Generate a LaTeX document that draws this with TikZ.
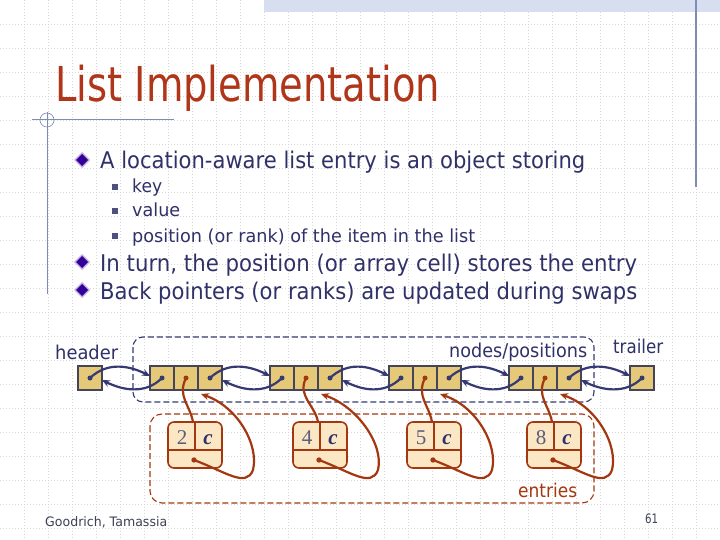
\documentclass[tikz,border=0pt]{standalone}
\usepackage{fontspec}
\setmainfont{DejaVu Sans}
\newfontfamily\serifkey{Liberation Serif}
\usetikzlibrary{arrows.meta,calc}
\definecolor{titlered}{HTML}{B0361A}
\definecolor{navy}{HTML}{2F3168}
\definecolor{bulletc}{HTML}{330099}
\definecolor{gridc}{HTML}{D8D8D8}
\definecolor{bandc}{HTML}{D6DEF0}
\definecolor{decoc}{HTML}{7E8BB5}
\definecolor{cellfill}{HTML}{E5C979}
\definecolor{cellline}{HTML}{44455A}
\definecolor{linkc}{HTML}{363A72}
\definecolor{entc}{HTML}{A33810}
\definecolor{entfill}{HTML}{FCE7C5}
\definecolor{keyc}{HTML}{5C5C7C}
\definecolor{footc}{HTML}{3F4256}
\newcommand{\fitw}[2]{\resizebox{#1}{\height}{#2}}
\begin{document}
\begin{tikzpicture}[x=1pt,y=-1pt,
  gridline/.style={gridc, line width=0.7pt, dash pattern=on 1pt off 2pt},
  cell/.style={draw=cellline, fill=cellfill, line width=1.4pt, minimum width=24pt, minimum height=24pt, inner sep=0pt, outer sep=0pt},
  link/.style={linkc, line width=2.2pt, -{Stealth[length=8pt,width=7pt]}},
  eptr/.style={entc, line width=2.2pt},
  bptr/.style={entc, line width=2.2pt, -{Stealth[length=8pt,width=7pt]}},
  ent/.style={draw=entc, fill=entfill, rounded corners=6pt, line width=1.6pt, minimum width=54pt, minimum height=46pt, inner sep=0pt, outer sep=0pt},
  keyt/.style={text=keyc, font=\serifkey\fontsize{21}{21}\selectfont, inner sep=0pt, anchor=base},
  ct/.style={text=navy, font=\serifkey\bfseries\itshape\fontsize{21}{21}\selectfont, inner sep=0pt, anchor=base},
  lbl/.style={text=navy, font=\fontsize{19}{19}\selectfont, inner sep=0pt, anchor=base west},
  body/.style={text=navy, font=\fontsize{23}{23}\selectfont, inner sep=0pt, anchor=base west},
  subt/.style={text=navy, font=\fontsize{18}{18}\selectfont, inner sep=0pt, anchor=base west},
  dbul/.pic={
    \fill[bulletc!30] (0,-8) -- (8,0) -- (0,8) -- (-8,0) -- cycle;
    \fill[bulletc] (0,-6) -- (6,0) -- (0,6) -- (-6,0) -- cycle;
  },
  sbul/.pic={\fill[navy!85] (-3,-3) rectangle (3,3);},
]
\useasboundingbox (0,0) rectangle (720,540);
\fill[white] (0,0) rectangle (720,540);
% grid
\foreach \i in {1,...,29} \draw[gridline] ({\i*24},0) -- ({\i*24},540);
\foreach \j in {1,...,22} \draw[gridline] (0,{\j*24}) -- (720,{\j*24});
% decorations
\fill[bandc] (264,0) rectangle (720,12);
\draw[decoc, line width=1.3pt] (696,0) -- (696,187);
\draw[decoc, line width=1pt] (32,120) -- (174,120);
\draw[decoc, line width=1pt] (47,112) -- (47,294);
\draw[decoc, line width=0.6pt] (47,120) circle (7);
% title
\node[anchor=base west, inner sep=0pt, text=titlered, font=\fontsize{48}{48}\selectfont] (title) at (55,102) {\fitw{385pt}{List Implementation}};
% bullets
\pic at (82,160) {dbul};
\node[body] (b1) at (100,169) {\fitw{485pt}{A location-aware list entry is an object storing}};
\pic at (115,187) {sbul};
\node[subt] (s1) at (132,193) {\fitw{30pt}{key}};
\pic at (115,211) {sbul};
\node[subt] (s2) at (132,217) {\fitw{48pt}{value}};
\pic at (115,236) {sbul};
\node[subt] (s3) at (132,242) {\fitw{343pt}{position (or rank) of the item in the list}};
\pic at (82,262) {dbul};
\node[body] (b2) at (100,271) {\fitw{537pt}{In turn, the position (or array cell) stores the entry}};
\pic at (82,290) {dbul};
\node[body] (b3) at (100,299) {\fitw{537pt}{Back pointers (or ranks) are updated during swaps}};
% dashed groups
\draw[linkc, dash pattern=on 6pt off 3pt, line width=1.1pt, rounded corners=10pt] (133,337) rectangle (594,402);
\draw[entc, dash pattern=on 6pt off 3pt, line width=1.1pt, rounded corners=12pt] (150,414) rectangle (594,503);
% labels
\node[lbl] (lh) at (55,359) {\fitw{63pt}{header}};
\node[lbl] (lp) at (449,357) {\fitw{138pt}{nodes/positions}};
\node[lbl] (lt) at (613,353) {\fitw{50pt}{trailer}};
\node[lbl, text=entc] (le) at (518,497) {\fitw{59pt}{entries}};
% cells
\node[cell] (h) at (90,378) {};
\node[cell] (t) at (642,378) {};
\foreach \i/\x in {1/150, 2/270, 3/389, 4/509} {
  \node[cell] (n\i-a) at ({\x+12},378) {};
  \node[cell] (n\i-b) at ({\x+36},378) {};
  \node[cell] (n\i-c) at ({\x+60},378) {};
}
% element pointers
\foreach \i/\x in {1/195, 2/320, 3/434, 4/554} {
  \node[ent, draw=none, fill=none] (e\i) at (\x,445) {};
  \draw[eptr] (n\i-b.center) .. controls +(-9,18) and +(-3,-17) .. ($(e\i.north)+(-2,0)$);
}
% entries
\foreach \i/\k in {1/2, 2/4, 3/5, 4/8} {
  \node[ent] (e\i) at (e\i.center) {};
  \draw[entc, line width=1.6pt] ($(e\i.west)+(0,5)$) -- ($(e\i.east)+(0,5)$);
  \draw[entc, line width=1.6pt] (e\i.north) -- ($(e\i.center)+(0,5)$);
  \node[keyt] (k\i) at ($(e\i.center)+(-13,-1)$) {\k};
  \node[ct] (c\i) at ($(e\i.center)+(13,-1)$) {c};
  \coordinate (d\i) at ($(e\i.center)+(-1,15)$);
}
% back pointers
\foreach \i in {1,...,4} {
  \draw[bptr] (d\i) .. controls ($(d\i)+(32,12)$) and ($(d\i)+(52,28)$) .. ($(d\i)+(59,10)$)
     .. controls ($(d\i)+(65,-15)$) and ($(n\i-c.south west)+(40,17)$) .. ($(n\i-c.south west)+(3,4)$);
  \fill[entc] (d\i) circle (2.7);
}
% links
\foreach \a/\b in {h/n1-a, n1-c/n2-a, n2-c/n3-a, n3-c/n4-a, n4-c/t} {
  \draw[link] (\a.center) .. controls +(18,-17) and +(-20,-10) .. ($(\b.west)+(0,-2)$);
  \draw[link] (\b.center) .. controls +(-17,17) and +(20,10) .. ($(\a.east)+(0,2)$);
}
% dots
\fill[linkc] (h.center) circle (2.5);
\fill[linkc] (t.center) circle (2.5);
\foreach \i in {1,...,4} {
  \fill[linkc] (n\i-a.center) circle (2.5);
  \fill[entc] (n\i-b.center) circle (2.5);
  \fill[linkc] (n\i-c.center) circle (2.5);
}
% footer
\node[anchor=base west, inner sep=0pt, text=footc, font=\fontsize{13}{13}\selectfont] (foot) at (45,526) {\fitw{122pt}{Goodrich, Tamassia}};
\node[anchor=base west, inner sep=0pt, text=footc, font=\fontsize{13}{13}\selectfont] (pg) at (645,523) {\fitw{13pt}{61}};
\end{tikzpicture}
\end{document}
